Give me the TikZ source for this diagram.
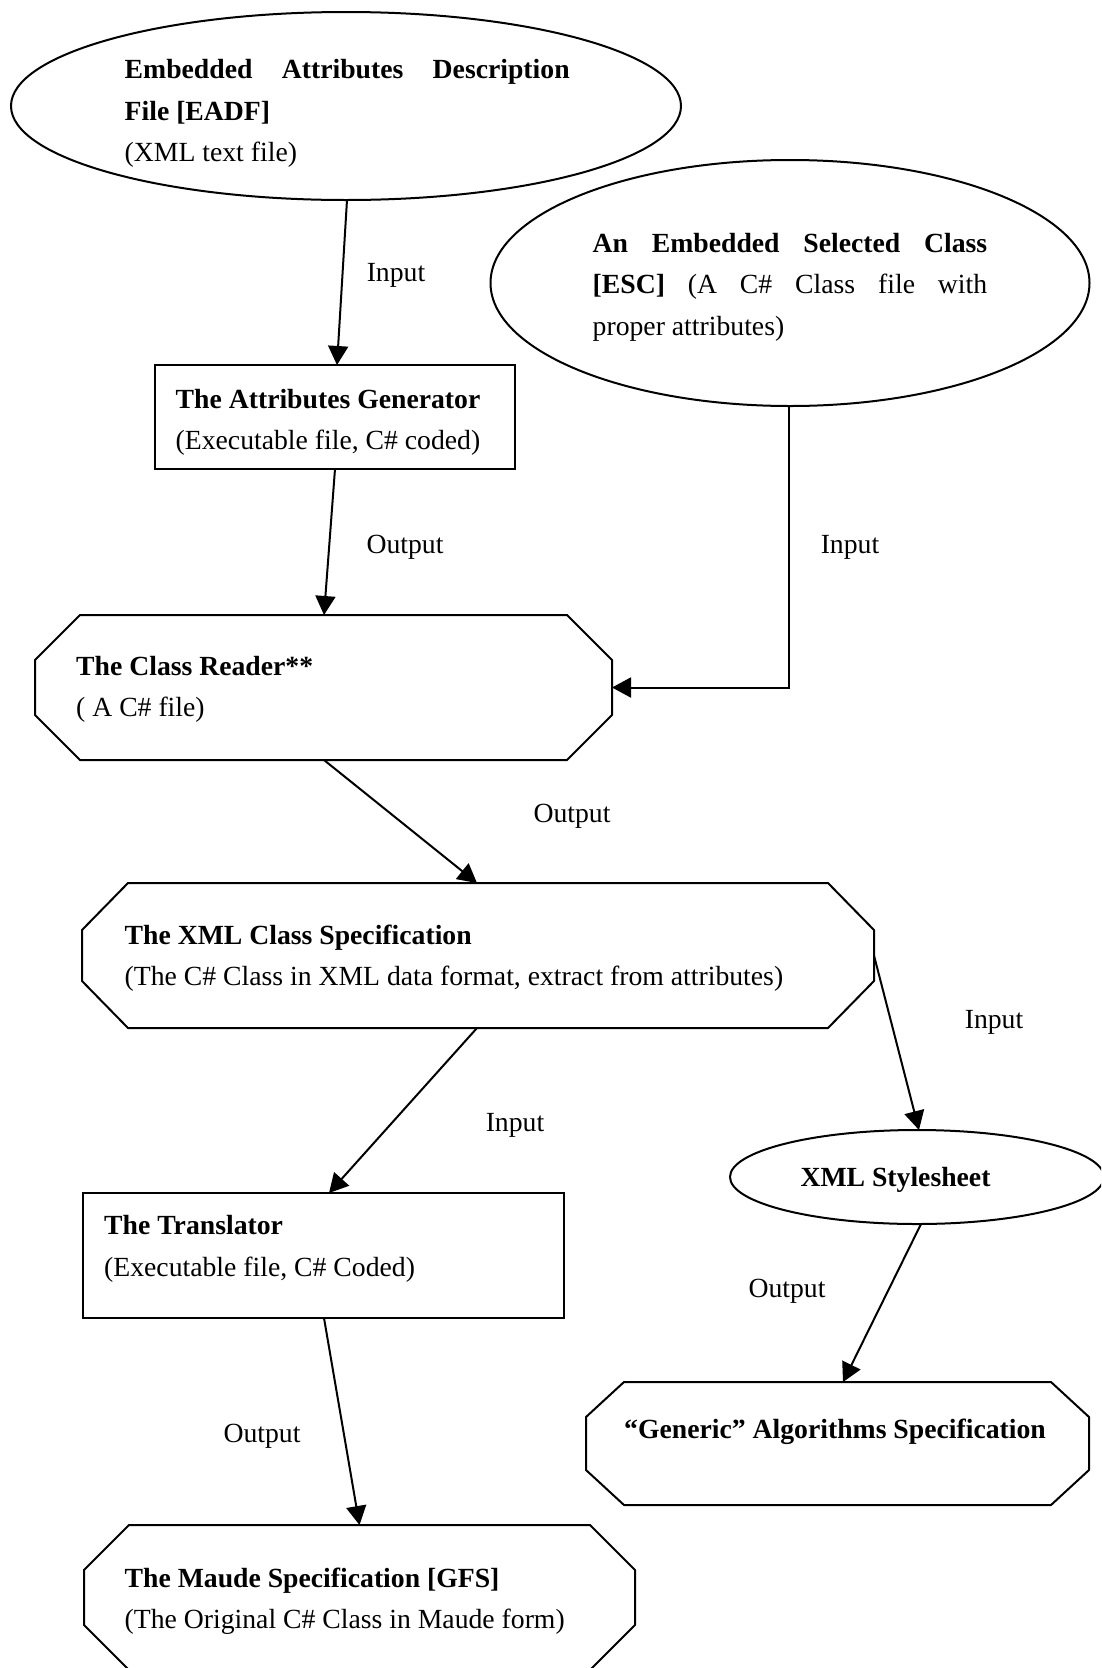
\documentclass[tikz,border=0pt]{standalone}
\usepackage{fontspec}
\setmainfont{Liberation Serif}
\usetikzlibrary{arrows.meta,shapes.geometric,calc}
\newcommand\octpath[3]{%
  \draw[shapeline] ([xshift=#2]#1.north west) -- ([xshift=-#2]#1.north east)
    -- ([yshift=-#3]#1.north east) -- ([yshift=#3]#1.south east)
    -- ([xshift=-#2]#1.south east) -- ([xshift=#2]#1.south west)
    -- ([yshift=#3]#1.south west) -- ([yshift=-#3]#1.north west) -- cycle;}
\begin{document}
\begin{tikzpicture}[x=1pt,y=-1pt,
  every node/.style={font=\fontsize{27.7}{41.5}\selectfont},
  shapeline/.style={line width=2pt, line join=round},
  ell/.style={ellipse, draw, line width=2pt, inner sep=0pt, outer sep=0pt},
  box/.style={rectangle, draw, line width=2pt, inner sep=0pt, outer sep=0pt},
  oct/.style={rectangle, inner sep=0pt, outer sep=0pt},
  txt/.style={anchor=west, align=left, inner sep=0pt},
  lbl/.style={inner sep=0pt},
  conn/.style={line width=2pt, -{Triangle[length=19pt,width=20pt]}},
]
\useasboundingbox (0,0) rectangle (1101,1668);
\clip (0,0) rectangle (1101,1668);
\fill[white] (0,0) rectangle (1101,1668);

% shapes
\node[ell, minimum width=670pt, minimum height=188pt] (eadf) at (346,106) {};
\node[ell, minimum width=599pt, minimum height=246pt] (esc) at (790,283) {};
\node[box, minimum width=360pt, minimum height=104pt] (attr) at (335,417) {};
\node[oct, minimum width=577pt, minimum height=145pt] (reader) at (323.5,687.5) {};
\octpath{reader}{45pt}{45pt}
\node[oct, minimum width=792pt, minimum height=145pt] (xmlspec) at (478,955.5) {};
\octpath{xmlspec}{46pt}{47pt}
\node[ell, minimum width=374pt, minimum height=94pt] (style) at (917,1177) {};
\node[box, minimum width=481pt, minimum height=125pt] (trans) at (323.5,1255.5) {};
\node[oct, minimum width=503pt, minimum height=123pt] (generic) at (837.5,1443.5) {};
\octpath{generic}{38pt}{35pt}
\node[oct, minimum width=551pt, minimum height=145pt] (maude) at (359.5,1597.5) {};
\octpath{maude}{45pt}{45pt}

% texts
\node[txt] (eadf-t) at (124.5,113.6) {\makebox[445pt][s]{\bfseries Embedded Attributes Description}\\\textbf{File [EADF]}\\(XML text file)};
\node[txt] (esc-t) at (592.5,287) {\makebox[394.5pt][s]{\bfseries An Embedded Selected Class}\\\makebox[394.5pt][s]{\textbf{[ESC]} (A C\# Class file with}\\proper attributes)};
\node[txt] (attr-t) at (175.5,422.5) {\textbf{The Attributes Generator}\\(Executable file, C\# coded)};
\node[txt] (reader-t) at (76,689.5) {\textbf{The Class Reader**}\\( A C\# file)};
\node[txt] (xmlspec-t) at (124.5,958) {\textbf{The XML Class Specification}\\(The C\# Class in XML data format, extract from attributes)};
\node[lbl] (style-t) at (895.5,1179.6) {\textbf{XML Stylesheet}};
\node[txt] (trans-t) at (104,1249) {\textbf{The Translator}\\(Executable file, C\# Coded)};
\node[lbl] (generic-t) at (835,1432) {\textbf{“Generic” Algorithms Specification}};
\node[txt] (maude-t) at (124.5,1601) {\textbf{The Maude Specification [GFS]}\\(The Original C\# Class in Maude form)};

% connectors
\draw[conn] ([xshift=1pt]eadf.south) -- ([xshift=2pt]attr.north);
\draw[conn] (attr.south) -- ([xshift=0.5pt]reader.north);
\draw[conn] ([xshift=-1pt]esc.south) |- (reader.east);
\draw[conn] ([xshift=0.5pt]reader.south) -- ([xshift=-1pt]xmlspec.north);
\draw[conn] ([xshift=-1pt]xmlspec.south) -- ([xshift=5.5pt]trans.north);
\draw[conn] (xmlspec.east) -- ([xshift=2pt]style.north);
\draw[conn] ([xshift=0.5pt]trans.south) -- (maude.north);
\draw[conn] ([xshift=4pt]style.south) -- ([xshift=5.5pt]generic.north);

% labels
\node[lbl] (l1) at (396,275) {Input};
\node[lbl] (l2) at (405,547) {Output};
\node[lbl] (l3) at (850,547) {Input};
\node[lbl] (l4) at (572,816) {Output};
\node[lbl] (l5) at (994,1022) {Input};
\node[lbl] (l6) at (515,1125) {Input};
\node[lbl] (l7) at (787,1291) {Output};
\node[lbl] (l8) at (262,1436) {Output};
\end{tikzpicture}
\end{document}
